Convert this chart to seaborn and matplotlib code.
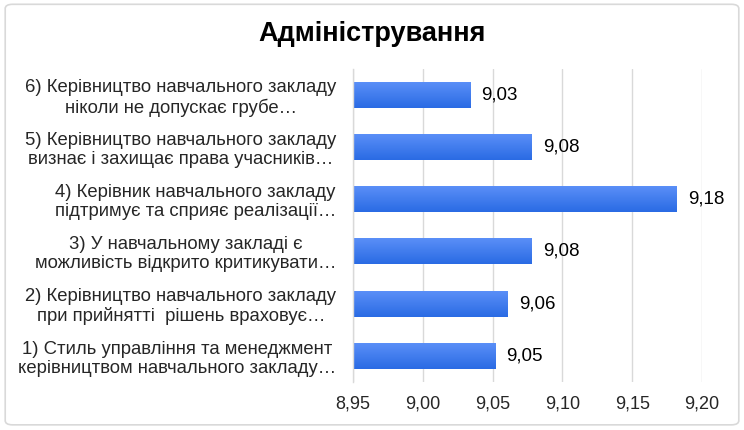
import numpy as np
import pandas as pd
import matplotlib
matplotlib.use("Agg")
import matplotlib.pyplot as plt
import seaborn as sns
from matplotlib.colors import LinearSegmentedColormap
from matplotlib.patches import FancyBboxPatch

# ---- data ----
categories = [
    "1) Стиль управління та менеджмент\nкерівництвом навчального закладу…",
    "2) Керівництво навчального закладу\nпри прийнятті  рішень враховує…",
    "3) У навчальному закладі є\nможливість відкрито критикувати…",
    "4) Керівник навчального закладу\nпідтримує та сприяє реалізації…",
    "5) Керівництво навчального закладу\nвизнає і захищає права учасників…",
    "6) Керівництво навчального закладу\nніколи не допускає грубе…",
]
values = [9.052, 9.061, 9.078, 9.182, 9.078, 9.034]
value_labels = ["9,05", "9,06", "9,08", "9,18", "9,08", "9,03"]
x_ticks = [8.95, 9.00, 9.05, 9.10, 9.15, 9.20]
x_tick_labels = ["8,95", "9,00", "9,05", "9,10", "9,15", "9,20"]
title = "Адміністрування"

df = pd.DataFrame({"cat": categories, "val": values, "lab": value_labels})
order = list(reversed(categories))

sns.set_theme(style="white")
plt.rcParams["font.family"] = ["Liberation Sans", "DejaVu Sans"]

fig = plt.figure(figsize=(7.44, 4.30), dpi=100)
fig.patches.append(FancyBboxPatch((0.007, 0.012), 0.986, 0.978,
                                  boxstyle="round,pad=0,rounding_size=0.01",
                                  transform=fig.transFigure, fill=False,
                                  edgecolor="#d9d9d9", linewidth=1.2))
ax = fig.add_axes([0.4745, 0.112, 0.469, 0.728])

sns.barplot(data=df, x="val", y="cat", order=order, orient="h",
            width=0.5, color="#3f7ef0", ax=ax, zorder=3)

xmin, xmax = x_ticks[0], x_ticks[-1]
cmap = LinearSegmentedColormap.from_list("g", ["#5c90f8", "#2a6be4"])
grad = np.linspace(0, 1, 64).reshape(-1, 1)
for p in ax.patches:
    x0, y0, w, h = p.get_x(), p.get_y(), p.get_width(), p.get_height()
    x0c = max(x0, xmin)
    im = ax.imshow(grad, cmap=cmap, aspect="auto",
                   extent=(x0c, x0 + w, y0 + h, y0), zorder=3, origin="upper")
    im.set_clip_path(p)
    p.set_facecolor("none")
    p.set_edgecolor("none")

ax.set_xlim(xmin, xmax)
ax.set_ylim(len(categories) - 0.5, -0.5)

for i, cat in enumerate(order):
    row = df[df["cat"] == cat].iloc[0]
    ax.annotate(row["lab"], xy=(row["val"], i), xytext=(8, 0),
                textcoords="offset points", va="center", ha="left",
                fontsize=13.5, color="#000000")

ax.set_xticks(x_ticks)
ax.set_xticklabels(x_tick_labels, fontsize=13)
ax.set_yticks(range(len(order)))
ax.set_yticklabels(order, fontsize=13.3, multialignment="center",
                   linespacing=1.15)
ax.tick_params(axis="y", length=0, pad=12)
ax.tick_params(axis="x", length=0, pad=10)
ax.set_xlabel("")
ax.set_ylabel("")
ax.grid(axis="x", color="#d9d9d9", linewidth=1, zorder=0)
ax.grid(axis="y", visible=False)
for s in ["top", "right", "bottom"]:
    ax.spines[s].set_visible(False)
ax.spines["left"].set_color("#d9d9d9")
ax.spines["left"].set_linewidth(1)
ax.spines["left"].set_zorder(4)

fig.text(0.5, 0.92, title, ha="center", va="center",
         fontsize=19.5, fontweight="bold", color="#000000")

fig.savefig("out.png", dpi=100, facecolor="white")
